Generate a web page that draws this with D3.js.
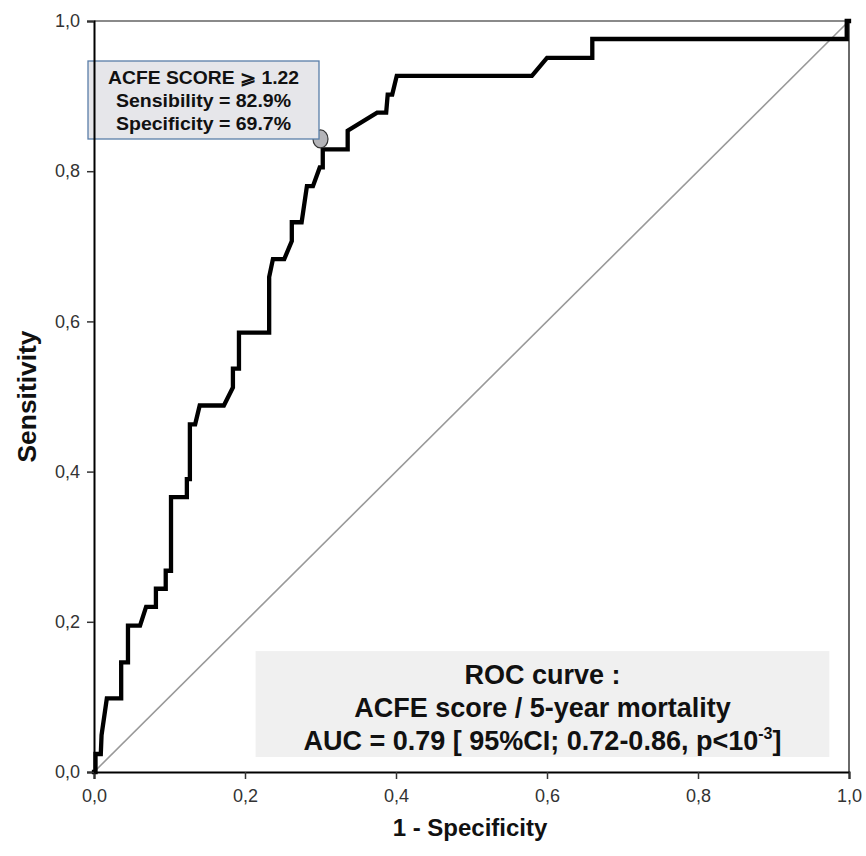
<!DOCTYPE html>
<html>
<head>
<meta charset="utf-8">
<script src="https://cdn.jsdelivr.net/npm/d3@7/dist/d3.min.js"></script>
<style>
  html, body { margin: 0; padding: 0; background: #fff; }
  svg { display: block; }
  text { font-family: "Liberation Sans", Arial, sans-serif; }
</style>
</head>
<body>
<svg id="chart" width="866" height="856"></svg>
<script>
// ROC curve points (1 - specificity, sensitivity)
const fpr = [0.000, 0.002, 0.002, 0.009, 0.010, 0.017, 0.036, 0.036, 0.045, 0.045, 0.061, 0.069, 0.082, 0.082, 0.095, 0.095, 0.102, 0.102, 0.123, 0.123, 0.127, 0.127, 0.134, 0.140, 0.172, 0.184, 0.184, 0.192, 0.192, 0.232, 0.232, 0.237, 0.252, 0.262, 0.262, 0.275, 0.282, 0.290, 0.299, 0.303, 0.303, 0.336, 0.336, 0.375, 0.387, 0.389, 0.395, 0.401, 0.580, 0.600, 0.660, 0.660, 0.997, 0.997, 1.000];
const tpr = [0.000, 0.000, 0.024, 0.024, 0.049, 0.098, 0.098, 0.146, 0.146, 0.195, 0.195, 0.220, 0.220, 0.244, 0.244, 0.268, 0.268, 0.366, 0.366, 0.390, 0.390, 0.463, 0.463, 0.488, 0.488, 0.512, 0.537, 0.537, 0.585, 0.585, 0.659, 0.683, 0.683, 0.707, 0.732, 0.732, 0.780, 0.780, 0.805, 0.805, 0.829, 0.829, 0.854, 0.878, 0.878, 0.902, 0.902, 0.927, 0.927, 0.951, 0.951, 0.976, 0.976, 1.000, 1.000];
const ticks = [0, 0.2, 0.4, 0.6, 0.8, 1.0];
const tickLabels = ["0,0", "0,2", "0,4", "0,6", "0,8", "1,0"];
const cutoff = { x: 0.300, y: 0.843 };
const cutoffLines = ["ACFE SCORE \u2A7E 1.22", "Sensibility = 82.9%", "Specificity = 69.7%"];
const aucLines = ["ROC curve :", "ACFE score / 5-year mortality"];
const xLabel = "1 - Specificity";
const yLabel = "Sensitivity";

const svg = d3.select("#chart");
const pL = 94, pR = 849, pT = 21, pB = 772;
const x = d3.scaleLinear().domain([0, 1]).range([pL, pR]);
const y = d3.scaleLinear().domain([0, 1]).range([pB, pT]);

// frame (top & right)
svg.append("line").attr("x1", pL).attr("x2", pR).attr("y1", pT).attr("y2", pT)
  .attr("stroke", "#8a8a8a").attr("stroke-width", 2);
svg.append("line").attr("x1", pR).attr("x2", pR).attr("y1", pT).attr("y2", pB)
  .attr("stroke", "#6a6a6a").attr("stroke-width", 2);

// diagonal reference
svg.append("line").attr("x1", x(0)).attr("y1", y(0)).attr("x2", x(1)).attr("y2", y(1))
  .attr("stroke", "#999").attr("stroke-width", 1.6);

// AUC box
const aucBox = svg.append("g");
aucBox.append("rect").attr("x", x(0.214)).attr("y", y(0.161)).attr("width", x(0.974) - x(0.214))
  .attr("height", y(0.020) - y(0.161)).attr("fill", "#f0f0f0");
const cx = (x(0.214) + x(0.974)) / 2;
const fsA = 27;
aucBox.append("text").attr("x", cx).attr("y", 684).attr("text-anchor", "middle")
  .attr("font-weight", "bold").attr("font-size", fsA).attr("fill", "#111").text(aucLines[0]);
aucBox.append("text").attr("x", cx).attr("y", 717).attr("text-anchor", "middle")
  .attr("font-weight", "bold").attr("font-size", fsA).attr("fill", "#111").text(aucLines[1]);
const t3 = aucBox.append("text").attr("x", cx).attr("y", 750).attr("text-anchor", "middle")
  .attr("font-weight", "bold").attr("font-size", fsA).attr("fill", "#111");
t3.append("tspan").text("AUC = 0.79 [ 95%CI; 0.72-0.86, p<10");
t3.append("tspan").attr("font-size", 16).attr("dy", -11).text("-3");
t3.append("tspan").attr("dy", 11).text("]");

// ROC curve
const pts = fpr.map((v, i) => [v, tpr[i]]);
svg.append("path").datum(pts)
  .attr("d", d3.line().x(d => x(d[0])).y(d => y(d[1])))
  .attr("fill", "none").attr("stroke", "#000").attr("stroke-width", 4.3)
  .attr("stroke-linejoin", "miter").attr("stroke-linecap", "square");

// cutoff marker
svg.append("ellipse").attr("cx", x(cutoff.x)).attr("cy", y(cutoff.y)).attr("rx", 7.5).attr("ry", 9)
  .attr("fill", "#b4b4b8").attr("stroke", "#333").attr("stroke-width", 1.2);

// cutoff annotation box
const bx = 88, bw = 231, by = 61, bh = 78;
const boxLen = [191, 175, 175];
svg.append("rect").attr("x", bx).attr("y", by).attr("width", bw).attr("height", bh)
  .attr("fill", "#e6e6ea").attr("stroke", "#5a7ea8").attr("stroke-width", 1.3);
cutoffLines.forEach((s, i) => {
  svg.append("text").attr("x", bx + bw / 2).attr("y", 84 + i * 23).attr("text-anchor", "middle")
    .attr("font-weight", "bold").attr("font-size", 18).attr("fill", "#111")
    .attr("textLength", boxLen[i]).attr("lengthAdjust", "spacingAndGlyphs").text(s);
});

// axes
const fmt = d => tickLabels[ticks.findIndex(t => Math.abs(t - d) < 1e-9)];
const xAxis = svg.append("g").attr("transform", `translate(0,${pB})`)
  .call(d3.axisBottom(x).tickValues(ticks).tickFormat(fmt).tickSize(7).tickPadding(10));
const yAxis = svg.append("g").attr("transform", `translate(${pL},0)`)
  .call(d3.axisLeft(y).tickValues(ticks).tickFormat(fmt).tickSize(7).tickPadding(7));
[xAxis, yAxis].forEach(g => {
  g.select(".domain").attr("stroke", "#000").attr("stroke-width", 2);
  g.selectAll(".tick line").attr("stroke", "#333").attr("stroke-width", 1.5);
  g.selectAll(".tick text").attr("font-family", "'Liberation Sans', Arial, sans-serif")
    .attr("font-size", 18).attr("fill", "#333");
});

// axis titles
svg.append("text").attr("x", 470).attr("y", 836).attr("text-anchor", "middle")
  .attr("font-weight", "bold").attr("font-size", 24).attr("fill", "#111").text(xLabel);
svg.append("text").attr("transform", `translate(36,${(pT + pB) / 2}) rotate(-90)`)
  .attr("text-anchor", "middle").attr("font-weight", "bold").attr("font-size", 25)
  .attr("fill", "#111").attr("textLength", 132).attr("lengthAdjust", "spacingAndGlyphs").text(yLabel);
</script>
</body>
</html>
